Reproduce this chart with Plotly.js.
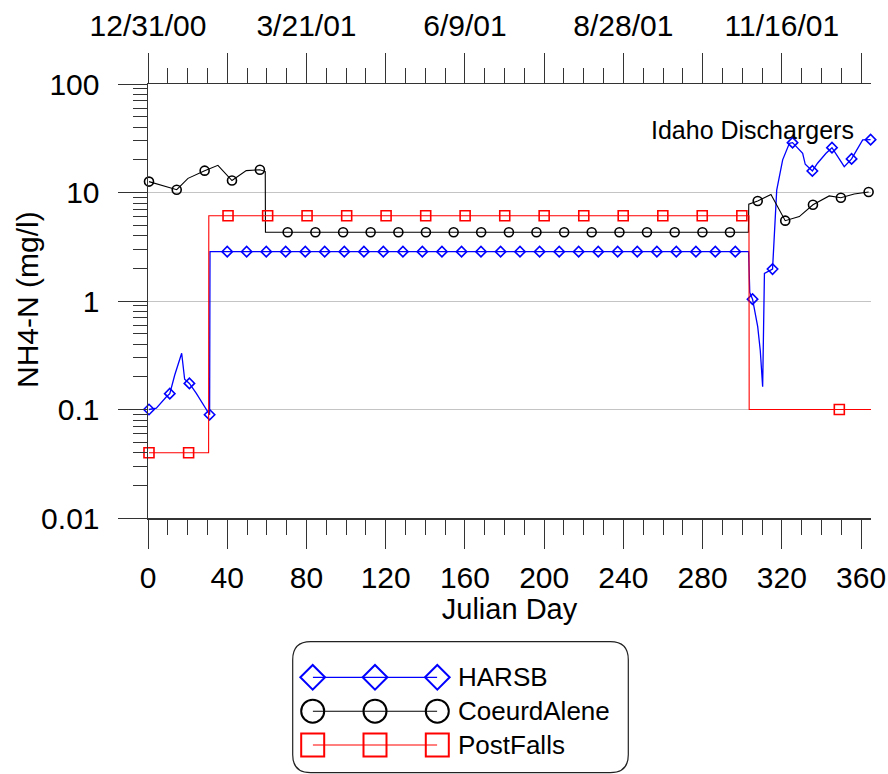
<!DOCTYPE html>
<html><head><meta charset="utf-8">
<script src="https://cdn.plot.ly/plotly-3.0.1.min.js"></script>
<style>body{margin:0;background:#fff}#chart{width:888px;height:774px}</style>
</head><body><div id="chart"></div>
<script>
// ---------- data ----------
const seriesNames = ['HARSB', 'CoeurdAlene', 'PostFalls'];

// HARSB (blue diamonds)
const harsbLineDays = [0.5, 4.2, 9.3, 11, 13.5, 17, 18.5, 20.9, 24.4, 31.1, 31.3, 303.2, 303.8, 305.2, 307.8, 309.1, 310.3, 311.2, 315.3, 317.4, 320.4, 323.8, 325.4, 330.5, 331.8, 335.4, 338, 342.3, 345.3, 351.5, 355.2, 360.8, 364.8];
const harsbLineVals = [0.1, 0.103, 0.131, 0.14, 0.208, 0.33, 0.19, 0.174, 0.141, 0.0895, 2.85, 2.85, 1.2, 1.04, 0.58, 0.35, 0.162, 1.8, 1.97, 10.5, 20, 28.4, 28.8, 23, 18.2, 15.8, 18.6, 23, 25.9, 17.3, 20.4, 30.5, 30.7];
const harsbMarkDays = [0.5, 11, 20.9, 31.1, 40, 49.8, 59.7, 69.5, 79.4, 89.2, 99.1, 109, 118.8, 128.7, 138.5, 148.4, 158.3, 168.1, 178, 187.8, 197.7, 207.6, 217.4, 227.3, 237.1, 247, 256.9, 266.7, 276.6, 286.4, 296.5, 305.2, 315.3, 325.4, 335.4, 345.3, 355.2, 364.8];
const harsbMarkVals = [0.1, 0.14, 0.174, 0.0895, 2.85, 2.85, 2.85, 2.85, 2.85, 2.85, 2.85, 2.85, 2.85, 2.85, 2.85, 2.85, 2.85, 2.85, 2.85, 2.85, 2.85, 2.85, 2.85, 2.85, 2.85, 2.85, 2.85, 2.85, 2.85, 2.85, 2.85, 1.04, 1.97, 28.8, 15.8, 25.9, 20.4, 30.7];

// Coeur d'Alene (black circles)
const cdaLineDays = [0.5, 14.5, 20.2, 28.6, 35.3, 42.4, 49.6, 56.5, 59.2, 59.3, 303.1, 303.3, 307.8, 314.5, 321.7, 328.8, 335.7, 343.9, 349.8, 356.5, 363.8];
const cdaLineVals = [12.6, 10.6, 13.5, 15.9, 17.8, 12.9, 15.9, 16.2, 15.6, 4.3, 4.3, 7.8, 8.36, 9.6, 5.5, 6.0, 7.7, 9.3, 8.95, 9.7, 10.1];
const cdaMarkDays = [0.5, 14.5, 28.6, 42.4, 56.5, 70.5, 84.5, 98.5, 112.4, 126.4, 140.3, 154.3, 168.2, 182.2, 196.1, 210.1, 224, 238, 251.9, 265.9, 279.9, 293.8, 307.8, 321.7, 335.7, 349.8, 363.8];
const cdaMarkVals = [12.6, 10.6, 15.9, 12.9, 16.2, 4.3, 4.3, 4.3, 4.3, 4.3, 4.3, 4.3, 4.3, 4.3, 4.3, 4.3, 4.3, 4.3, 4.3, 4.3, 4.3, 4.3, 8.36, 5.5, 7.7, 8.95, 10.1];

// Post Falls (red squares)
const pfLineDays = [0.5, 30.6, 30.7, 303.4, 303.5, 365];
const pfLineVals = [0.04, 0.04, 6.1, 6.1, 0.1, 0.1];
const pfMarkDays = [0.5, 20.5, 40.4, 60.4, 80.3, 100.3, 120.2, 140.2, 160.1, 180.1, 200, 220, 239.9, 259.9, 279.8, 299.8, 349];
const pfMarkVals = [0.04, 0.04, 6.1, 6.1, 6.1, 6.1, 6.1, 6.1, 6.1, 6.1, 6.1, 6.1, 6.1, 6.1, 6.1, 6.1, 0.1];

// axis labels
const bottomTickVals = [0, 40, 80, 120, 160, 200, 240, 280, 320, 360];
const topTickVals = [0, 40, 80, 120, 160, 200, 240, 280, 320, 360];
const topTickText = ['12/31/00', '', '3/21/01', '', '6/9/01', '', '8/28/01', '', '11/16/01', ''];
const yTickVals = [0.01, 0.1, 1, 10, 100];
const yTickText = ['0.01', '0.1', '1', '10', '100'];

// ---------- styling ----------
const FONT = 'Liberation Sans, Arial, sans-serif';
const colors = ['#0000ff', '#000000', '#ff0000'];
const symbols = ['diamond-open', 'circle-open', 'square-open'];
const plotSizes = [8, 9, 10];
const legSizes = [19, 23, 23];

const yMinor = [];
for (let e = -2; e < 2; e++) for (let m = 2; m <= 9; m++) yMinor.push(m * Math.pow(10, e));

const lineSets = [
  [harsbLineDays, harsbLineVals, harsbMarkDays, harsbMarkVals],
  [cdaLineDays, cdaLineVals, cdaMarkDays, cdaMarkVals],
  [pfLineDays, pfLineVals, pfMarkDays, pfMarkVals]
];

const traces = [];
lineSets.forEach((s, i) => {
  traces.push({x: s[0], y: s[1], mode: 'lines', type: 'scatter', xaxis: 'x', yaxis: 'y',
    line: {color: colors[i], width: i === 0 ? 1.3 : 1.1}, hoverinfo: 'skip', showlegend: false});
  traces.push({x: s[2], y: s[3], mode: 'markers', type: 'scatter', xaxis: 'x', yaxis: 'y',
    marker: {symbol: symbols[i], size: plotSizes[i], color: colors[i], line: {width: 1.6, color: colors[i]}},
    showlegend: false, cliponaxis: false});
});
// dummy trace for top axis
traces.push({x: [0], y: [1], xaxis: 'x2', yaxis: 'y', mode: 'none', type: 'scatter', showlegend: false, hoverinfo: 'skip'});

// custom legend drawn on its own small axes
const legRows = [3, 2, 1];
seriesNames.forEach((n, i) => {
  traces.push({x: [0, 1, 2], y: [legRows[i], legRows[i], legRows[i]], xaxis: 'x3', yaxis: 'y3',
    mode: 'lines+markers', type: 'scatter', line: {color: colors[i], width: 1.1},
    marker: {symbol: symbols[i], size: legSizes[i], color: colors[i], line: {width: 2, color: colors[i]}},
    showlegend: false, hoverinfo: 'skip', cliponaxis: false});
});

const axisColor = '#333333';
const W = 888, H = 774, ml = 148, mr = 17, mt = 84, mb = 0;
const pw = W - ml - mr, ph = H - mt - mb;
const px = v => (v - ml) / pw;
const py = v => (H - v) / ph;

const bx0 = px(292.7), bx1 = px(628.3), by0 = py(772.7), by1 = py(641.7);
const rx = 18 / pw, ry = 18 / ph;
const boxPath = `M ${bx0 + rx} ${by1} L ${bx1 - rx} ${by1} Q ${bx1} ${by1} ${bx1} ${by1 - ry} L ${bx1} ${by0 + ry} Q ${bx1} ${by0} ${bx1 - rx} ${by0} L ${bx0 + rx} ${by0} Q ${bx0} ${by0} ${bx0} ${by0 + ry} L ${bx0} ${by1 - ry} Q ${bx0} ${by1} ${bx0 + rx} ${by1} Z`;

const layout = {
  width: W, height: H,
  margin: {l: ml, r: mr, t: mt, b: mb, pad: 0},
  paper_bgcolor: '#ffffff', plot_bgcolor: '#ffffff',
  font: {family: FONT, size: 30, color: '#000'},
  showlegend: false,
  xaxis: {
    domain: [0, 1], anchor: 'y', range: [0, 365],
    tickmode: 'array', tickvals: bottomTickVals,
    ticks: 'outside', ticklen: 29, tickwidth: 1, tickcolor: axisColor,
    minor: {tickmode: 'linear', tick0: 0, dtick: 10, ticks: 'outside', ticklen: 15, tickwidth: 1, tickcolor: axisColor, showgrid: false},
    showline: true, linecolor: axisColor, linewidth: 1.5, showgrid: false, zeroline: false,
    tickfont: {family: FONT, size: 30}, ticklabelstandoff: 3, ticklabeloverflow: 'allow',
    title: {text: 'Julian Day', font: {family: FONT, size: 29}, standoff: 0}
  },
  xaxis2: {
    overlaying: 'x', anchor: 'y', side: 'top', range: [0, 365],
    tickmode: 'array', tickvals: topTickVals, ticktext: topTickText,
    ticks: 'outside', ticklen: 30, tickwidth: 1, tickcolor: axisColor,
    minor: {tickmode: 'linear', tick0: 0, dtick: 10, ticks: 'outside', ticklen: 15, tickwidth: 1, tickcolor: axisColor, showgrid: false},
    showline: true, linecolor: axisColor, linewidth: 1.5, showgrid: false, zeroline: false,
    tickfont: {family: FONT, size: 30}, ticklabelstandoff: 5, ticklabeloverflow: 'allow'
  },
  yaxis: {
    domain: [py(518), 1], anchor: 'x', type: 'log', range: [-2, 2],
    tickmode: 'array', tickvals: yTickVals, ticktext: yTickText,
    ticks: 'outside', ticklen: 29, tickwidth: 1, tickcolor: axisColor,
    minor: {tickmode: 'array', tickvals: yMinor, ticks: 'outside', ticklen: 14, tickwidth: 1, tickcolor: axisColor, showgrid: false},
    showline: true, linecolor: axisColor, linewidth: 1.5,
    showgrid: true, gridcolor: '#c4c4c4', gridwidth: 1, zeroline: false,
    tickfont: {family: FONT, size: 30}, ticklabelstandoff: 12
  },
  xaxis3: {domain: [px(312.7), px(437.3)], anchor: 'y3', range: [0, 2], visible: false, fixedrange: true},
  yaxis3: {domain: [0, 0.2], anchor: 'x3', range: [0.144, 4.221], visible: false, fixedrange: true},
  shapes: [{type: 'path', xref: 'paper', yref: 'paper', path: boxPath, line: {color: '#222', width: 1.2}, fillcolor: 'rgba(0,0,0,0)', layer: 'below'}],
  annotations: [
    {xref: 'paper', yref: 'paper', x: px(752), y: py(130), text: 'Idaho Dischargers', showarrow: false,
     xanchor: 'center', yanchor: 'middle', font: {family: FONT, size: 25, color: '#000'}},
    {xref: 'paper', yref: 'paper', x: px(27), y: py(300), text: 'NH4-N (mg/l)', showarrow: false, textangle: -90,
     xanchor: 'center', yanchor: 'middle', font: {family: FONT, size: 30, color: '#000'}},
  ].concat(seriesNames.map((n, i) => ({xref: 'paper', yref: 'y3', x: px(456), y: legRows[i], text: n, showarrow: false,
     xanchor: 'left', yanchor: 'middle', font: {family: FONT, size: 26, color: '#000'}})))
};

Plotly.newPlot('chart', traces, layout, {displayModeBar: false, staticPlot: true});
</script></body></html>
